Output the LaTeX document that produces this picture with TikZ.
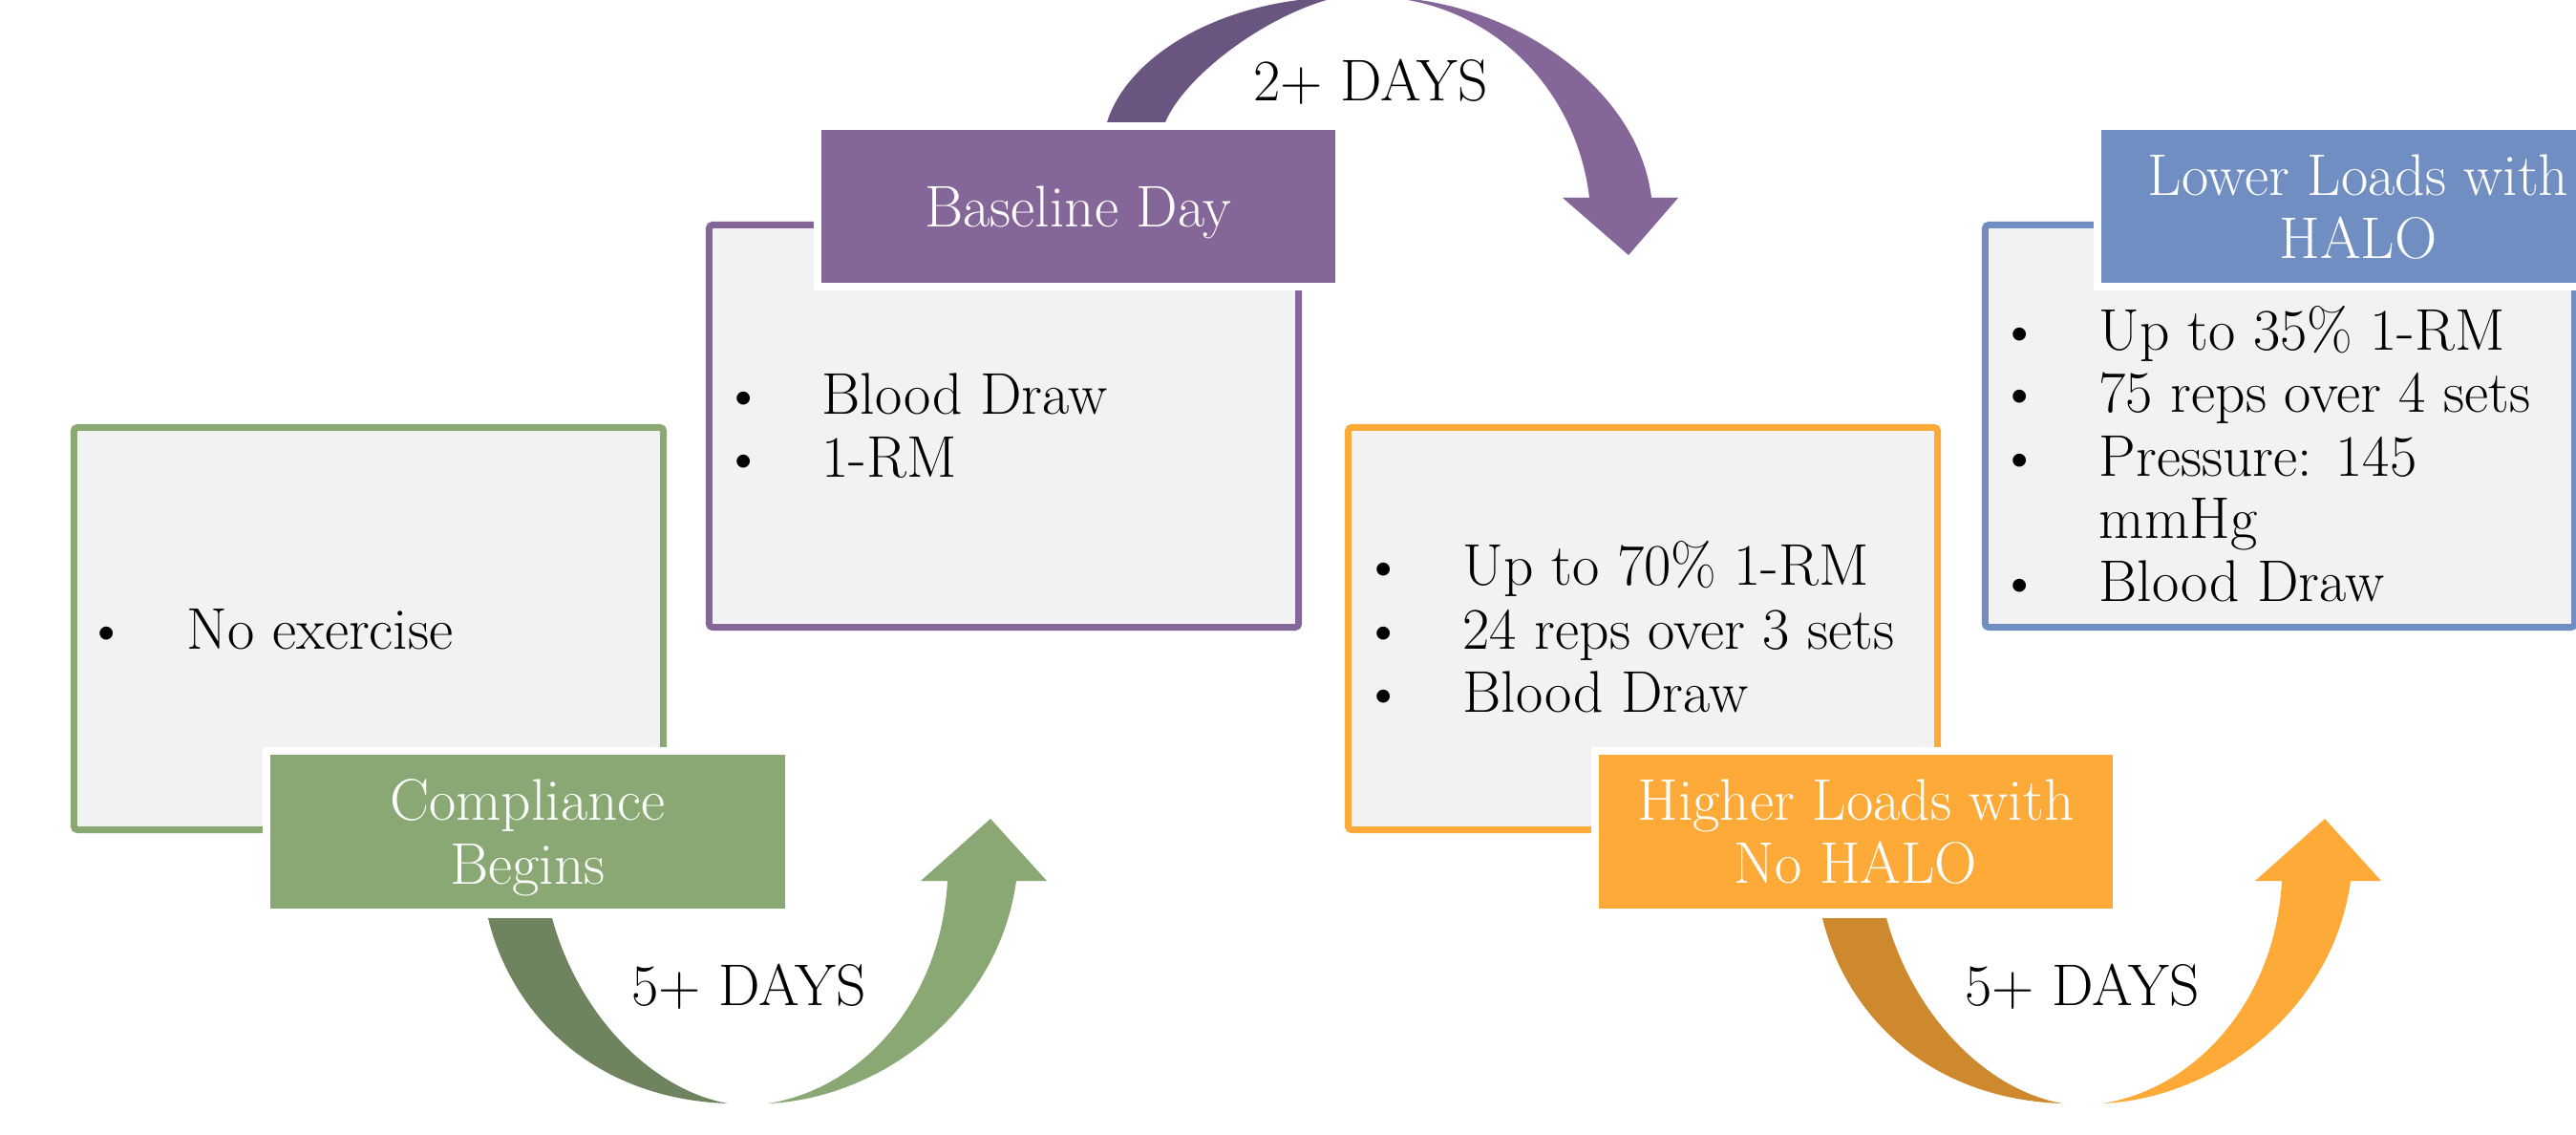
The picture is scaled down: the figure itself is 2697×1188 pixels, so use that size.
\documentclass[tikz,border=0pt]{standalone}
\usepackage{fontspec}
\usepackage{tikz}
\usepackage{amsmath}
\usepackage{amssymb}
\usepackage{xcolor}

\definecolor{grn}{RGB}{138,168,116}
\definecolor{grnD}{RGB}{110,132,94}
\definecolor{prp}{RGB}{132,103,152}
\definecolor{prpD}{RGB}{106,84,128}
\definecolor{org}{RGB}{253,170,57}
\definecolor{orgD}{RGB}{206,137,46}
\definecolor{blu}{RGB}{112,142,193}
\definecolor{pane}{RGB}{242,242,242}

\begin{document}
\begin{tikzpicture}[x=0.01cm,y=-0.01cm,
            		every node/.style={font=\fontsize{17.5}{18.8}\selectfont,inner sep=0pt},
            		panel/.style={draw=#1,fill=pane,line width=0.07cm,rounded corners=0.04cm,minimum width=6.17cm,minimum height=4.21cm},
            		head/.style={draw=white,fill=#1,line width=0.08cm,text=white,align=center,minimum width=5.46cm,minimum height=1.68cm,text depth=0pt},
            		txt/.style={anchor=base west},
            		ctr/.style={anchor=base}]
            		\useasboundingbox (0,0) rectangle (2697,1188);
            		\fill[white] (0,0) rectangle (2697,1188);
            		\clip (0,0) rectangle (2697,1188);

            		\foreach \dx/\cd/\cl in {0/grnD/grn, 1397/orgD/org} {
            		\begin{scope}[shift={(\dx,0)}]
            		\fill[\cd] (511,961) .. controls (535,1060) and (620,1150) .. (762,1155) .. controls (680,1140) and (605,1060) .. (578,961) -- cycle;
            		\fill[\cl] (804,1155) .. controls (920,1150) and (1045,1060) .. (1064,922) -- (1096,922) -- (1037,857) -- (964,922) -- (992,922) .. controls (985,1050) and (900,1140) .. (804,1155) -- cycle;
            		\end{scope}
            		}
            		\fill[prpD] (1159,128) .. controls (1180,60) and (1275,0) .. (1400,-3) .. controls (1325,15) and (1240,80) .. (1220,128) -- cycle;
            		\fill[prp] (1450,-3) .. controls (1580,0) and (1715,90) .. (1729,207) -- (1757,207) -- (1705,267) -- (1636,207) -- (1664,207) .. controls (1650,90) and (1560,5) .. (1450,-3) -- cycle;

            		\node (gBox) at (386,658) [panel=grn] {};
            		\node (pBox) at (1051,446) [panel=prp] {};
            		\node (oBox) at (1720,658) [panel=org] {};
            		\node (bBox) at (2387,446) [panel=blu] {};

            		\node (gHead) at (552.5,870.5) [head=grn] {Compliance\\Begins};
            		\node (pHead) at (1129,216) [head=prp] {Baseline Day};
            		\node (oHead) at (1943,870.5) [head=org] {Higher Loads with\\No HALO};
            		\node (bHead) at (2469,216) [head=blu] {Lower Loads with\\HALO};

            		\node (g1d) at (112,679) [ctr] {\textbullet};
            		\node (g1) at (195,679) [txt] {No exercise};

            		\node (p1d) at (779,433) [ctr] {\textbullet};
            		\node (p1) at (860,433) [txt] {Blood Draw};
            		\node (p2d) at (779,499) [ctr] {\textbullet};
            		\node (p2) at (860,499) [txt] {1-RM};

            		\node (o1d) at (1449,612) [ctr] {\textbullet};
            		\node (o1) at (1531,612) [txt] {Up to 70\% 1-RM};
            		\node (o2d) at (1449,679) [ctr] {\textbullet};
            		\node (o2) at (1531,679) [txt] {24 reps over 3 sets};
            		\node (o3d) at (1449,745) [ctr] {\textbullet};
            		\node (o3) at (1531,745) [txt] {Blood Draw};

            		\node (b1d) at (2115,366) [ctr] {\textbullet};
            		\node (b1) at (2197,366) [txt] {Up to 35\% 1-RM};
            		\node (b2d) at (2115,431) [ctr] {\textbullet};
            		\node (b2) at (2197,431) [txt] {75 reps over 4 sets};
            		\node (b3d) at (2115,498) [ctr] {\textbullet};
            		\node (b3) at (2197,498) [txt] {Pressure: 145};
            		\node (b3b) at (2197,563) [txt] {mmHg};
            		\node (b4d) at (2115,629) [ctr] {\textbullet};
            		\node (b4) at (2197,629) [txt] {Blood Draw};

            		\node (d1) at (1435,106) [ctr] {2+ DAYS};
            		\node (d2) at (784,1052) [ctr] {5+ DAYS};
            		\node (d3) at (2180,1052) [ctr] {5+ DAYS};

        		\end{tikzpicture}
\end{document}
